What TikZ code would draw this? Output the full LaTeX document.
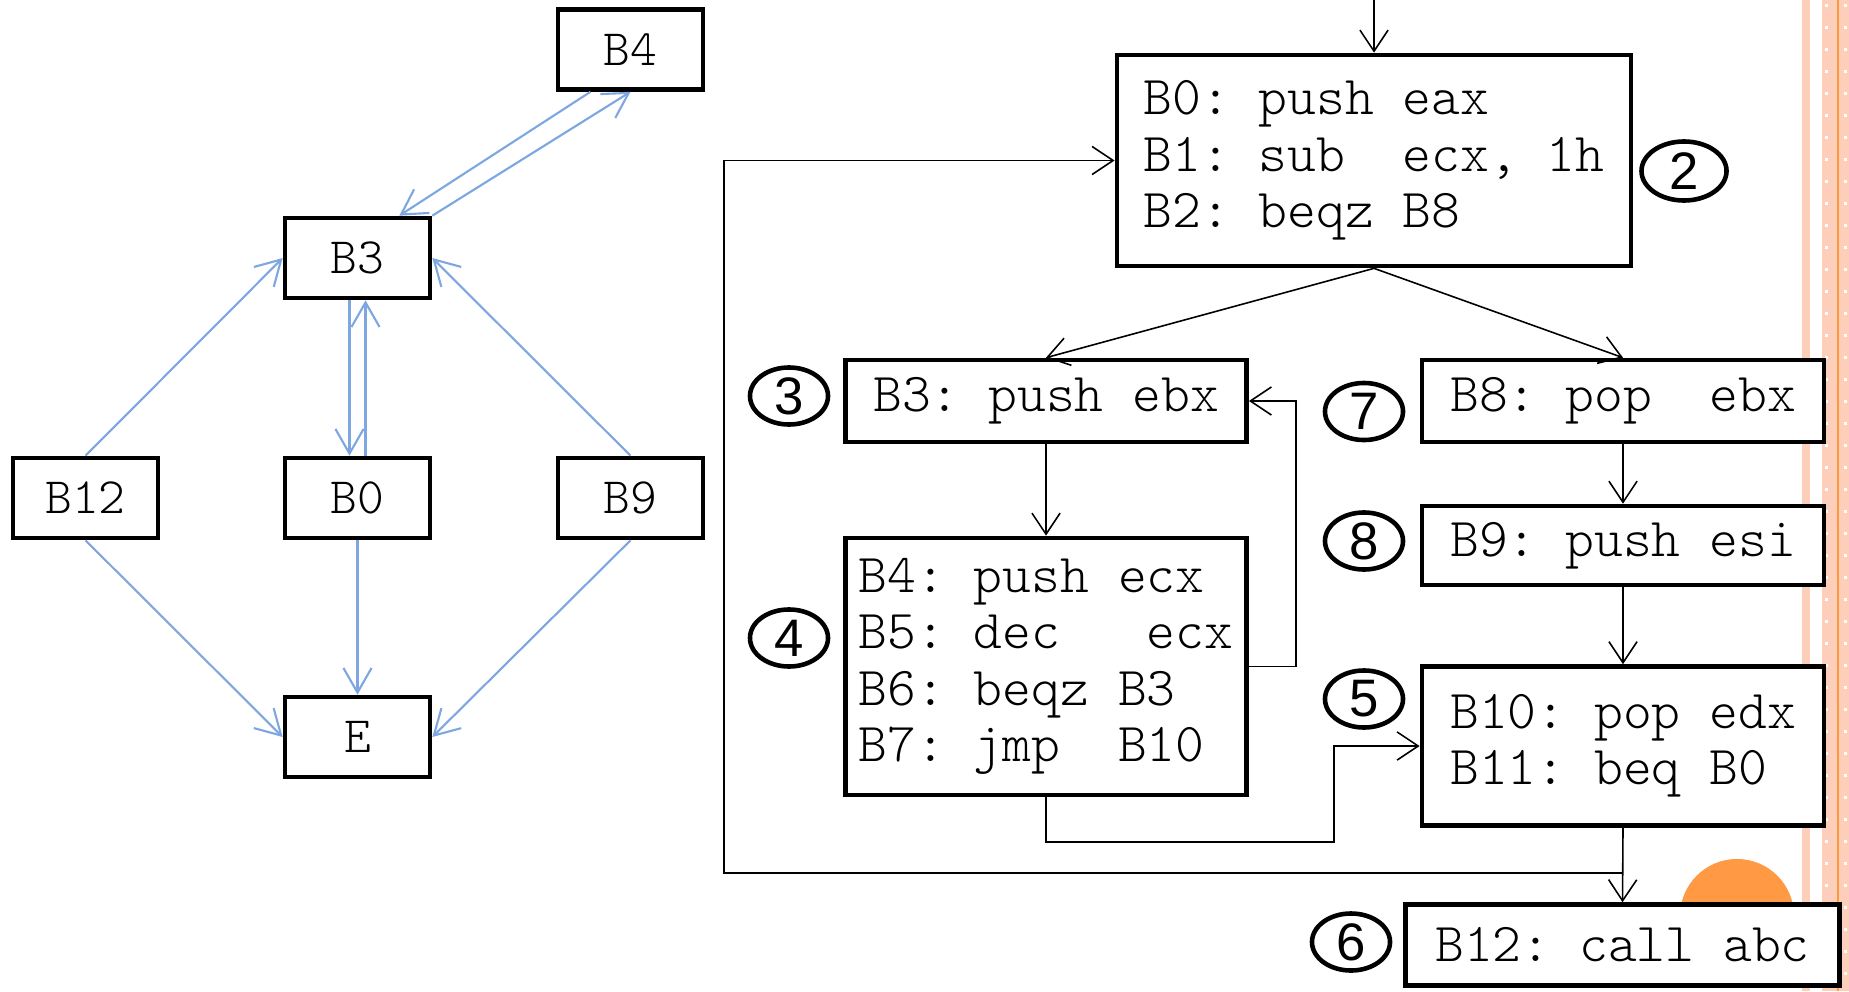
\documentclass[tikz,border=0pt]{standalone}
\usepackage{fontspec}
\usetikzlibrary{arrows.meta,shapes.geometric,calc}
\newfontfamily\codefont{lmmonolt10-regular.otf}
\newfontfamily\numfont{Liberation Sans}
\definecolor{cfgblue}{RGB}{126,166,224}
\definecolor{peach}{RGB}{253,206,186}
\definecolor{stripeorange}{RGB}{255,153,61}
\definecolor{dotorange}{RGB}{255,153,68}
\begin{document}
\begin{tikzpicture}[x=0.01cm,y=-0.01cm,
  blk/.style={draw,line width=1.3pt,fill=white,align=left,inner sep=0pt,
    font=\codefont\frenchspacing\fontsize{15.6}{16}\selectfont},
  gbox/.style={draw,line width=1.3pt,fill=white,inner sep=0pt,
    minimum width=1.45cm,minimum height=0.8cm,font=\codefont\fontsize{14.5}{15}\selectfont},
  lbl/.style={draw,ellipse,line width=1.3pt,inner sep=0pt,minimum width=0.78cm,
    minimum height=0.57cm,font=\numfont\fontsize{15}{15}\selectfont},
  cfg/.style={draw=cfgblue,line width=0.6pt,-{Straight Barb[length=7pt,width=8pt]}},
  flow/.style={line width=0.45pt,-{Straight Barb[length=6pt,width=8pt]}}]
\useasboundingbox (0,0) rectangle (1849,991);
% slide border
\fill[peach] (1802,0) rectangle (1810,991);
\fill[peach] (1822,0) rectangle (1849,991);
\fill[stripeorange] (1837,0) rectangle (1839,991);
\foreach \y in {4,26,...,990} {
  \fill[white] (1825,\y) rectangle +(3,3);
  \fill[white] (1844,\y) rectangle +(3,3);
}
\fill[dotorange] (1737,916) circle [radius=0.57cm];
% graph
\node[gbox] (gB4) at (630.5,49.5) {B4};
\node[gbox] (gB3) at (357.5,258) {B3};
\node[gbox] (gB12) at (85.5,498) {B12};
\node[gbox] (gB0) at (357.5,498) {B0};
\node[gbox] (gB9) at (630.5,498) {B9};
\node[gbox] (gE) at (357.5,737) {E};
\draw[cfg] ([xshift=-0.4cm]gB4.south) -- ([xshift=-0.33cm]gB3.north east);
\draw[cfg] (gB3.north east) -- (gB4.south);
\draw[cfg] (gB12.north) -- (gB3.west);
\draw[cfg] (gB9.north) -- (gB3.east);
\draw[cfg] ([xshift=-0.08cm]gB3.south) -- ([xshift=-0.08cm]gB0.north);
\draw[cfg] ([xshift=0.08cm]gB0.north) -- ([xshift=0.08cm]gB3.south);
\draw[cfg] (gB12.south) -- (gE.west);
\draw[cfg] (gB0.south) -- (gE.north);
\draw[cfg] (gB9.south) -- (gE.east);
% blocks
\node[blk,minimum width=5.14cm,minimum height=2.11cm] (b0) at (1374,160.5)
  {B0: push eax\\B1: sub~~ecx, 1h\\B2: beqz B8};
\node[blk,minimum width=4.01cm,minimum height=0.82cm] (b3) at (1046,401) {B3: push ebx};
\node[blk,minimum width=4.01cm,minimum height=2.57cm] (b4) at (1046,666.5)
  {B4: push ecx\\B5: dec~~ ecx\\B6: beqz B3\\B7: jmp~~B10};
\node[blk,minimum width=4.02cm,minimum height=0.82cm] (b8) at (1623,401) {B8: pop~~ebx};
\node[blk,minimum width=4.02cm,minimum height=0.79cm] (b9) at (1623,545.5) {B9: push esi};
\node[blk,minimum width=4.02cm,minimum height=1.59cm] (b10) at (1623,746)
  {B10: pop edx\\B11: beq B0};
\node[blk,minimum width=4.34cm,minimum height=0.81cm] (b12) at (1622.5,945) {B12: call abc};
\node[lbl,minimum width=0.85cm,minimum height=0.59cm] (n2) at (1684,171) {2};
\node[lbl] (n3) at (789,396) {3};
\node[lbl] (n4) at (789,638) {4};
\node[lbl] (n7) at (1364,411.5) {7};
\node[lbl] (n8) at (1364,541) {8};
\node[lbl] (n5) at (1364,699) {5};
\node[lbl] (n6) at (1351,942) {6};
\coordinate (entry) at (1374,0);
\draw[flow] (entry) -- (b0.north);
\draw[flow] (b0.south) -- (b3.north);
\draw[flow] (b0.south) -- (b8.north);
\draw[flow] (b3.south) -- (b4.north);
\draw[flow] (b4.east) -- ++(47,0) |- (b3.east);
\draw[flow] (b4.south) |- (1334,842) |- (b10.west);
\draw[flow] (b8.south) -- (b9.north);
\draw[flow] (b9.south) -- (b10.north);
\draw[flow] (b10.south) -- (b12.north);
\draw[flow] (b10.south |- 0,873) -- (724,873) |- (b0.west);
\end{tikzpicture}
\end{document}
